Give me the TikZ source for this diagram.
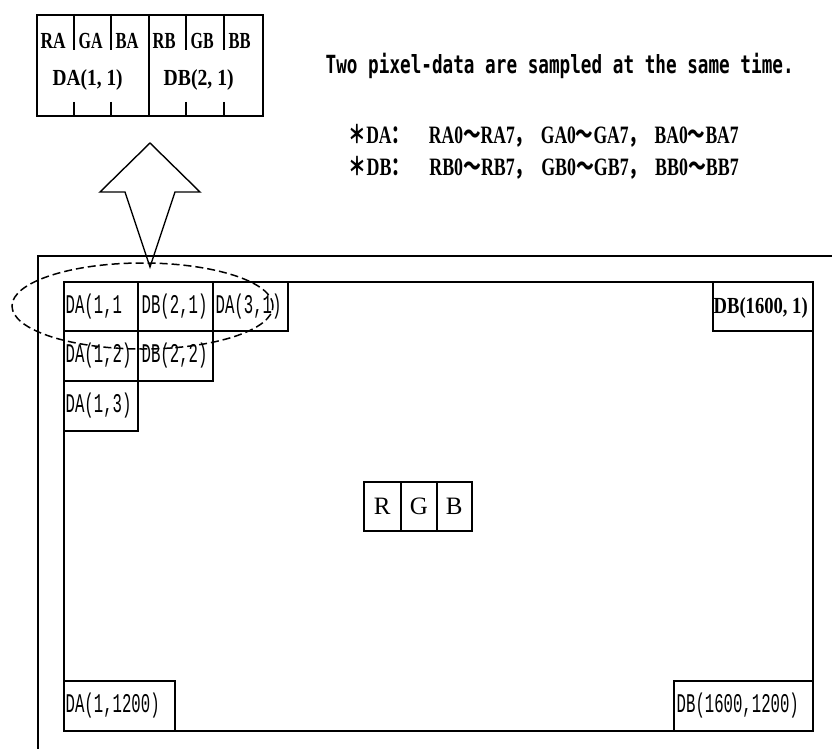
\documentclass[tikz,border=0pt]{standalone}
\usepackage{fontspec}
\usepackage{graphicx}
\setmainfont{Liberation Serif}
\newfontfamily\cjk{Noto Sans CJK SC}
\newfontfamily\cellmono{Liberation Mono}
\newfontfamily\titlemono{DejaVu Sans Mono}
\usetikzlibrary{shapes.geometric}
\newcommand\fitw[2]{\resizebox{#1}{\height}{#2}}
\newcommand\xs[2]{\scalebox{#1}[1]{#2}}
\begin{document}
\begin{tikzpicture}[x=1pt,y=-1pt,line width=1.4pt,
  cellbox/.style={draw,rectangle,inner sep=0pt,anchor=north west,line width=1.6pt},
  celltext/.style={anchor=west,inner sep=0pt,font=\cellmono\fontsize{27}{27}\selectfont},
  boldtext/.style={anchor=west,inner sep=0pt,font=\bfseries\fontsize{23}{23}\selectfont},
  linetext/.style={anchor=west,inner sep=0pt,font=\bfseries\fontsize{25}{25}\selectfont},
  rgbtext/.style={inner sep=0pt,font=\fontsize{25}{25}\selectfont}]
\useasboundingbox (0,0) rectangle (832,749);

% pixel-data box at the top
\node[cellbox,minimum width=226pt,minimum height=101pt] (pix) at (36,14) {};
\coordinate (midT) at (149,14);
\coordinate (midB) at (149,115);
\draw[line width=1.6pt] (midT) -- (midB);
\foreach \x in {74,111,186,224}{
  \draw[line width=1.6pt] (\x,14) -- (\x,50);
  \draw[line width=1.6pt] (\x,102) -- (\x,115);
}
\node[boldtext] (ra) at (40,41) {\fitw{25pt}{RA}};
\node[boldtext] (ga) at (78,41) {\fitw{24pt}{GA}};
\node[boldtext] (ba) at (115,41) {\fitw{23pt}{BA}};
\node[boldtext] (rb) at (152,41) {\fitw{23pt}{RB}};
\node[boldtext] (gb) at (190,41) {\fitw{23pt}{GB}};
\node[boldtext] (bb) at (228,41) {\fitw{22pt}{BB}};
\node[boldtext] (da11) at (52,80) {\fitw{70pt}{DA(1, 1)}};
\node[boldtext] (db21) at (163,80) {\fitw{70pt}{DB(2, 1)}};

% texts at the right
\node[anchor=west,inner sep=0pt,font=\titlemono\bfseries\fontsize{25}{25}\selectfont] (title) at (325,66)
  {\fitw{468pt}{Two pixel-data are sampled at the same time.}};
\node[linetext] (dal) at (348,136)
  {\fitw{390pt}{{\cjk ＊}DA{\cjk ：}\hspace{28pt}RA0{\cjk ～}RA7{\cjk ，}\hspace{12pt}GA0{\cjk ～}GA7{\cjk ，}\hspace{12pt}BA0{\cjk ～}BA7}};
\node[linetext] (dbl) at (348,168)
  {\fitw{390pt}{{\cjk ＊}DB{\cjk ：}\hspace{28pt}RB0{\cjk ～}RB7{\cjk ，}\hspace{12pt}GB0{\cjk ～}GB7{\cjk ，}\hspace{12pt}BB0{\cjk ～}BB7}};

% hollow arrow
\draw[line width=1.4pt,line join=miter] (150,143) -- (200,192) -- (175,192) -- (150,267) -- (125,192) -- (100,192) -- cycle;

% outer frame
\coordinate (frBL) at (38,749);
\coordinate (frTL) at (38,256);
\coordinate (frTR) at (832,256);
\draw (frBL) -- (frTL) -- (frTR);

% panel
\node[cellbox,minimum width=749pt,minimum height=449pt] (panel) at (63,281) {};

% cells
\node[cellbox,minimum width=74pt,minimum height=49pt] (c11) at (63,281) {};
\node[celltext] at ([xshift=2pt]c11.west) {\xs{0.58}{DA(1,1}};
\node[cellbox,minimum width=75pt,minimum height=49pt] (c21) at (137,281) {};
\node[celltext] at ([xshift=4pt]c21.west) {\xs{0.58}{DB(2,1)}};
\node[cellbox,minimum width=75pt,minimum height=49pt] (c31) at (212,281) {};
\node[celltext] at ([xshift=3pt]c31.west) {\xs{0.58}{DA(3,1)}};
\node[cellbox,minimum width=74pt,minimum height=50pt] (c12) at (63,330) {};
\node[celltext] at ([xshift=2pt]c12.west) {\xs{0.58}{DA(1,2)}};
\node[cellbox,minimum width=75pt,minimum height=50pt] (c22) at (137,330) {};
\node[celltext] at ([xshift=4pt]c22.west) {\xs{0.58}{DB(2,2)}};
\node[cellbox,minimum width=74pt,minimum height=50pt] (c13) at (63,380) {};
\node[celltext] at ([xshift=2pt]c13.west) {\xs{0.58}{DA(1,3)}};

\node[cellbox,minimum width=100pt,minimum height=49pt] (c1600) at (712,281) {};
\node[boldtext] at ([xshift=1pt,yshift=-2pt]c1600.west) {\fitw{94pt}{DB(1600, 1)}};

\node[cellbox,minimum width=111pt,minimum height=50pt] (c1200) at (63,680) {};
\node[celltext] at ([xshift=2pt]c1200.west) {\xs{0.58}{DA(1,1200)}};
\node[cellbox,minimum width=139pt,minimum height=50pt] (cend) at (673,680) {};
\node[celltext] at ([xshift=3pt]cend.west) {\xs{0.58}{DB(1600,1200)}};

% RGB
\node[cellbox,minimum width=37pt,minimum height=49pt] (r) at (363,481) {};
\node[cellbox,minimum width=36pt,minimum height=49pt] (g) at (400,481) {};
\node[cellbox,minimum width=35pt,minimum height=49pt] (b) at (436,481) {};
\node[rgbtext] at (r.center) {R};
\node[rgbtext] at (g.center) {G};
\node[rgbtext] at (b.center) {B};

% dashed selection ellipse
\node[draw,ellipse,dash pattern=on 8pt off 4pt,line width=1.5pt,inner sep=0pt,
  minimum width=261pt,minimum height=86pt] (sel) at (142.5,306) {};
\end{tikzpicture}
\end{document}
